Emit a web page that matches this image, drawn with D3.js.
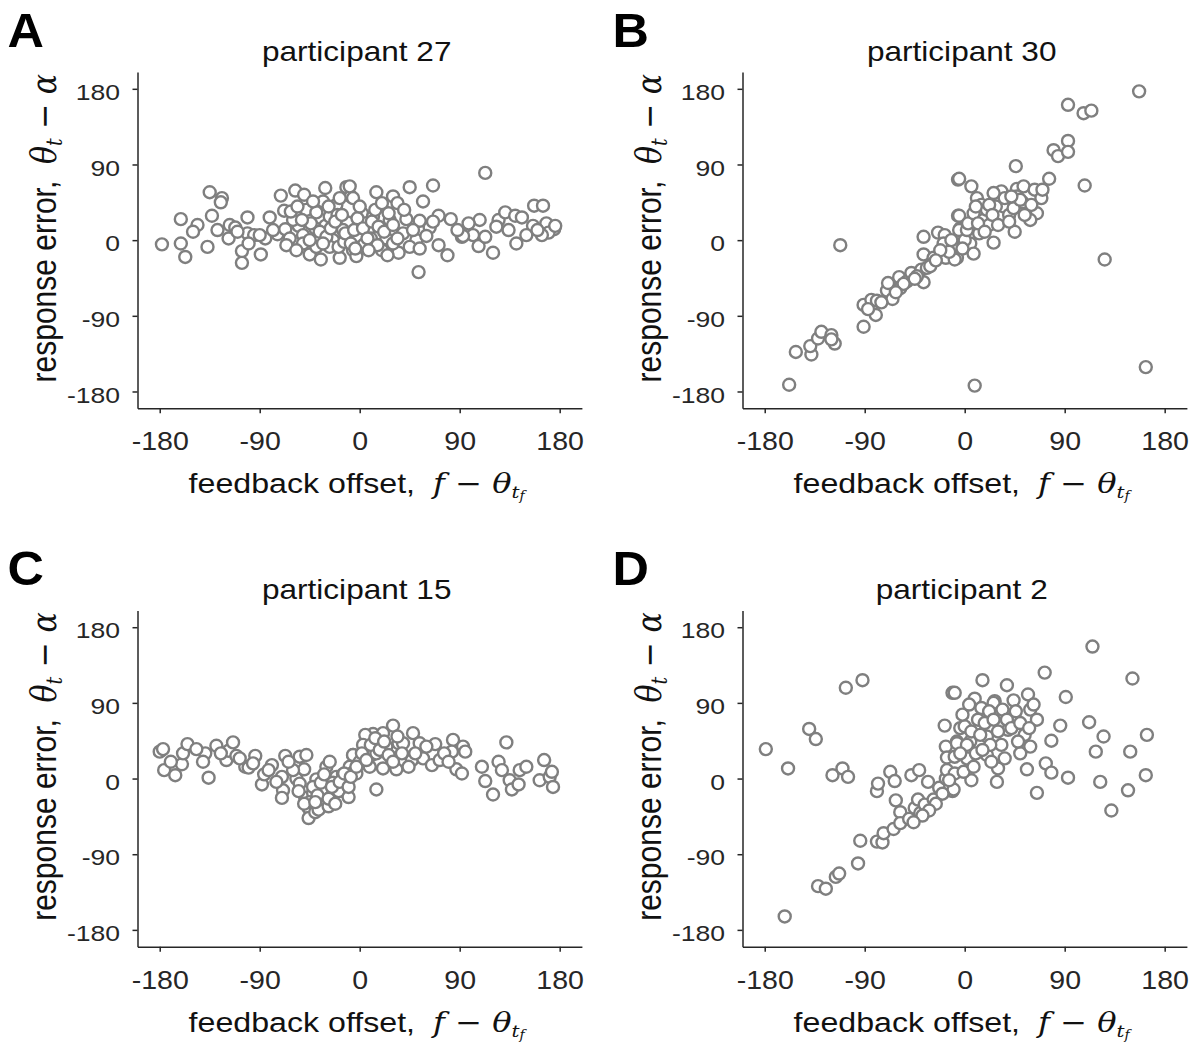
<!DOCTYPE html>
<html>
<head>
<meta charset="utf-8">
<script src="https://cdn.jsdelivr.net/npm/d3@7"></script>
<style>
  body { margin: 0; background: #fff; }
  svg { display: block; }
  .axis text { font-family: "Liberation Sans", Arial, sans-serif; fill: #262626; }
  .axis path, .axis line { stroke: #262626; stroke-width: 1.5px; }
</style>
</head>
<body>
<div id="chart"></div>
<script>
// tick values shared by every panel
var tickValues = [-180, -90, 0, 90, 180];
var tickLabels = ["-180", "-90", "0", "90", "180"];
var panelLetters = ["A", "B", "C", "D"];
var participants = ["participant 27", "participant 30", "participant 15", "participant 2"];

// [feedback offset, response error]
var p27 = [
  [-178,-5],[-161,-4],[-157,-20],[-161,25],[-146,18],[-135,57],[-124,50],[-125,45],[-133,29],[-137,-8],
  [-117,18],[-118,2],[-112,15],[-106,-13],[-106,-27],[-101,27],[-101,8],[-95,6],[-89,-17],[-85,2],
  [-81,27],[-74,7],[-71,53],[-68,35],[-67,13],[-63,2],[-58,59],[-55,17],[-50,54],[-48,36],
  [-51,6],[-45,-17],[-39,33],[-35,-23],[-33,46],[-31,62],[-31,17],[-24,0],[-21,42],[-18,-21],
  [-12,63],[-11,21],[-10,4],[-8,52],[-6,-12],[-15,12],[-27,28],[-51,-4],[-39,-8],[-27,-8],[-19,-8],
  [113,80],[45,63],[66,65],[57,46],[15,57],[30,52],[34,44],[-9,64],[-6,50],[2,32],
  [12,28],[27,24],[42,25],[54,23],[63,15],[71,29],[82,25],[8,12],[18,8],[39,8],
  [51,0],[20,-12],[35,-15],[45,-8],[54,-10],[71,-6],[79,-18],[53,-38],[-3,-19],[92,4],
  [102,6],[108,24],[107,-7],[113,4],[120,-15],[125,24],[131,33],[134,12],[140,29],[141,-4],
  [146,27],[156,17],[157,41],[165,41],[168,20],[175,13],[170,9],[164,6],[123,16],[93,5],
  [-2,5],[4,-5],[10,2],[-14,-2],[24,2],[30,-4],[-40,14],[-60,24],[-20,30],[5,20],
  [-44,20],[-36,10],[-30,4],[-26,14],[-22,22],[-16,30],[-13,8],[-5,12],[-2,26],[0,40],
  [3,14],[7,2],[11,22],[14,36],[17,16],[22,10],[26,32],[30,18],[34,2],[-45,0],
  [-52,24],[-62,34],[-78,12],[-90,6],[-100,-4],[-66,-6],[-57,-12],[-33,-4],[-8,-4],[16,-6],
  [25,-18],[60,5],[66,22],[88,12],[98,20],[150,6],[160,12],[176,17],[-110,10],[-128,12],
  [-150,10],[-4,-10],[8,-12],[-28,40],[-42,46],[20,44],[40,36],[48,12],[-18,50],[-56,40]
];
var p30 = [
  [-158,-172],[-152,-133],[-138,-136],[-139,-126],[-132,-117],[-129,-109],[-120,-113],[-117,-123],[-120,-118],[-112,-6],
  [-91,-103],[-91,-77],[-84,-71],[-80,-89],[-79,-72],[-70,-60],[-65,-70],[-69,-51],[-59,-44],[-58,-57],
  [-52,-49],[-48,-39],[-37,-50],[-39,-35],[-37,-17],[-37,4],[-34,-33],[-28,-21],[-24,9],[-18,6],
  [-17,-21],[-19,-4],[-11,-10],[-7,-21],[-6,72],[-6,29],[-4,14],[-31,-31],[-43,-43],
  [157,177],[93,161],[107,151],[114,154],[93,118],[80,107],[84,100],[93,105],[46,88],[76,73],
  [108,65],[126,-23],[163,-151],[9,-173],[-5,73],[6,64],[11,50],[15,42],[29,50],[33,58],
  [47,61],[53,64],[63,60],[69,50],[39,42],[47,52],[57,36],[65,32],[59,24],[45,10],
  [26,-3],[24,26],[13,8],[5,-4],[8,-16],[-5,29],[-5,12],[-10,-8],[-9,-23],[17,24],
  [32,28],[35,40],[20,36],[0,0],[2,12],[-14,-14],[22,18],[40,30],[52,45],[28,40],
  [3,20],[8,32],[12,20],[18,10],[22,42],[25,30],[30,18],[36,50],[40,22],[44,38],
  [50,48],[54,30],[60,42],[-2,-10],[-12,0],[-22,-12],[-26,-24],[-45,-46],[-55,-52],[-62,-62],
  [-75,-74],[-87,-82],[10,40],[26,56],[42,52],[70,60]
];
var p15 = [
  [-180,32],[-177,35],[-176,10],[-166,4],[-160,17],[-159,30],[-155,41],[-139,30],[-141,20],[-136,1],
  [-129,39],[-120,22],[-118,33],[-114,43],[-111,27],[-103,14],[-100,13],[-94,27],[-88,-7],[-86,5],
  [-79,16],[-70,2],[-69,-14],[-70,-23],[-67,27],[-57,0],[-54,26],[-48,28],[-50,11],[-54,-6],
  [-49,-23],[-46,-35],[-46,-47],[-40,-40],[-42,-17],[-39,-1],[-33,-29],[-30,-11],[-30,14],[-27,20],
  [-21,2],[-24,-19],[-15,-15],[-19,-15],[-12,-5],[-9,14],[-6,28],[-6,7],[-34,-13],[-37,-37],[-28,-33],
  [30,63],[12,53],[5,52],[21,54],[48,54],[35,42],[54,42],[68,41],[84,46],[93,38],
  [83,32],[95,32],[11,28],[-6,28],[47,22],[57,24],[65,16],[72,22],[33,11],[21,12],
  [9,14],[-3,6],[87,11],[92,6],[15,-13],[132,43],[110,14],[125,20],[113,-3],[120,-19],
  [128,10],[135,-2],[137,-13],[143,-7],[144,10],[150,14],[166,22],[162,-2],[171,2],[173,8],
  [174,-10],[3,40],[24,38],[39,42],[0,20],[-15,5],[-24,-5],[15,30],[28,25],[-10,-22],
  [-45,-28],[-42,-10],[-38,-20],[-35,-5],[-32,5],[-28,-24],[-25,-10],[-22,-30],[-18,-4],[-14,6],
  [-10,-10],[-8,2],[-3,14],[2,30],[6,22],[10,40],[14,48],[18,34],[22,44],[26,28],
  [30,20],[34,50],[38,30],[44,14],[50,30],[60,38],[76,30],[80,20],[-60,10],[-64,20],
  [-75,-4],[-82,10],[-96,18],[-108,24],[-125,30],[-147,35],[-170,20],[-55,-15],[-50,-30],[-40,-28]
];
var p2 = [
  [-179,35],[-162,-164],[-159,12],[-140,59],[-134,47],[-132,-128],[-125,-131],[-116,-117],[-113,-113],[-107,108],
  [-92,117],[-119,4],[-110,12],[-105,2],[-96,-101],[-94,-74],[-79,-15],[-78,-6],[-79,-75],[-74,-76],
  [-73,-65],[-67,8],[-63,-3],[-64,-60],[-62,-26],[-58,-40],[-58,-53],[-50,-48],[-48,4],[-41,10],
  [-45,-35],[-40,-41],[-42,-25],[-36,-31],[-33,-4],[-28,-25],[-23,-11],[-17,0],[-17,38],[-18,63],
  [-16,25],[-11,102],[-11,-15],[-16,10],[-9,26],[-7,44],[-4,60],[-13,-10],
  [115,157],[72,126],[151,119],[16,117],[38,111],[-9,102],[91,97],[57,100],[9,95],[27,92],
  [44,93],[59,82],[65,70],[86,63],[112,67],[125,50],[164,52],[118,32],[149,32],[78,45],
  [59,38],[56,11],[73,18],[78,7],[93,1],[122,-4],[147,-14],[163,4],[132,-38],[65,-17],
  [29,-4],[39,58],[12,70],[0,62],[20,50],[33,40],[50,30],[30,12],[20,28],[5,44],
  [2,24],[-7,42],[-9,6],[6,-2],[-10,-13],[-1,8],[23,40],[45,73],[26,90],[15,84],
  [2,40],[6,56],[10,30],[14,52],[18,66],[22,80],[26,70],[30,56],[34,82],[38,70],
  [42,60],[46,80],[50,66],[54,52],[58,60],[62,88],[-4,30],[-14,-2],[-20,-18],[-26,-30],
  [-32,-38],[-38,-44],[-46,-52],[8,14],[16,34],[24,20],[36,24],[48,44],[-2,76],[4,88]
];
var panelData = [p27, p30, p15, p2];

var W = 1193, H = 1042;
var svg = d3.select("#chart").append("svg").attr("width", W).attr("height", H);

var pw = 444.4, ph = 336.3;
var origins = [[137.5, 72], [742.5, 72], [137.5, 610.4], [742.5, 610.4]];

var sans = "'Liberation Sans', Arial, sans-serif";
var serif = "'DejaVu Serif', 'Liberation Serif', serif";

// the source figure is a little wider than tall, text included
function widen(sel, sx) {
  sel.each(function() {
    var t = d3.select(this);
    var ax = +t.attr("x") || 0, ay = +t.attr("y") || 0;
    t.attr("transform", "translate(" + ax + "," + ay + ") scale(" + sx + ",1) translate(" + (-ax) + "," + (-ay) + ")");
  });
}

panelData.forEach(function(data, i) {
  var ox = origins[i][0], oy = origins[i][1];
  var g = svg.append("g").attr("transform", "translate(" + ox + "," + oy + ")");

  var x = d3.scaleLinear().domain([-200, 200]).range([0, pw]);
  var y = d3.scaleLinear().domain([-200, 200]).range([ph, 0]);

  var xAxis = d3.axisBottom(x).tickValues(tickValues)
    .tickFormat(function(d, k) { return tickLabels[k]; })
    .tickSizeInner(5).tickSizeOuter(0).tickPadding(19);
  var yAxis = d3.axisLeft(y).tickValues(tickValues)
    .tickFormat(function(d, k) { return tickLabels[k]; })
    .tickSizeInner(5).tickSizeOuter(0).tickPadding(12.5);

  var gx = g.append("g").attr("class", "axis").attr("transform", "translate(0," + ph + ")").call(xAxis);
  var gy = g.append("g").attr("class", "axis").call(yAxis);
  g.selectAll(".axis").attr("font-family", null).attr("font-size", null);
  gx.selectAll("text").style("font-size", "25.5px");
  gy.selectAll("text").style("font-size", "22.5px").attr("dy", "0.47em");
  widen(gx.selectAll("text"), 1.12);
  widen(gy.selectAll("text"), 1.18);

  g.selectAll("circle.pt")
    .data(data)
    .enter().append("circle")
    .attr("class", "pt")
    .attr("cx", function(d) { return x(d[0]); })
    .attr("cy", function(d) { return y(d[1]); })
    .attr("r", 6)
    .style("fill", "#fff")
    .style("stroke", "#7f7f7f")
    .style("stroke-width", 2.4);

  // panel letter
  var letter = svg.append("text")
    .attr("x", ox - 130).attr("y", oy - 25)
    .style("font-family", sans).style("font-weight", "bold").style("font-size", "48px")
    .text(panelLetters[i]);
  widen(letter, 1.05);

  // title
  var title = svg.append("text")
    .attr("x", ox + pw / 2 - 3).attr("y", oy - 11)
    .attr("text-anchor", "middle")
    .style("font-family", sans).style("font-size", "27px").style("fill", "#111")
    .text(participants[i]);
  widen(title, 1.17);

  // x label
  var xl = svg.append("text")
    .attr("x", ox + pw / 2 - 3).attr("y", oy + ph + 85)
    .attr("text-anchor", "middle")
    .style("font-family", sans).style("font-size", "27.5px").style("fill", "#111");
  xl.append("tspan").text("feedback offset,\u00a0\u00a0");
  xl.append("tspan").style("font-family", serif).style("font-style", "italic").text("f");
  xl.append("tspan").style("font-family", serif).text(" \u2212 ");
  xl.append("tspan").style("font-family", serif).style("font-style", "italic").text("\u03b8");
  xl.append("tspan").style("font-family", serif).style("font-style", "italic").style("font-size", "17px").attr("dy", 5).text("t");
  xl.append("tspan").style("font-family", serif).style("font-style", "italic").style("font-size", "12px").attr("dy", 2).text("f");
  widen(xl, 1.17);

  // y label
  var yl = svg.append("text")
    .attr("transform", "translate(" + (ox - 82) + "," + (oy + ph / 2 - 12) + ") scale(1.15,1) rotate(-90)")
    .attr("text-anchor", "middle")
    .style("font-family", sans).style("font-size", "30px").style("fill", "#111");
  yl.append("tspan").text("response error,\u00a0\u00a0");
  yl.append("tspan").style("font-family", serif).style("font-style", "italic").text("\u03b8");
  yl.append("tspan").style("font-family", serif).style("font-style", "italic").style("font-size", "19px").attr("dy", 6).text("t");
  yl.append("tspan").style("font-family", serif).attr("dy", -6).text(" \u2212 ");
  yl.append("tspan").style("font-family", serif).style("font-style", "italic").text("\u03b1");
});
</script>
</body>
</html>
